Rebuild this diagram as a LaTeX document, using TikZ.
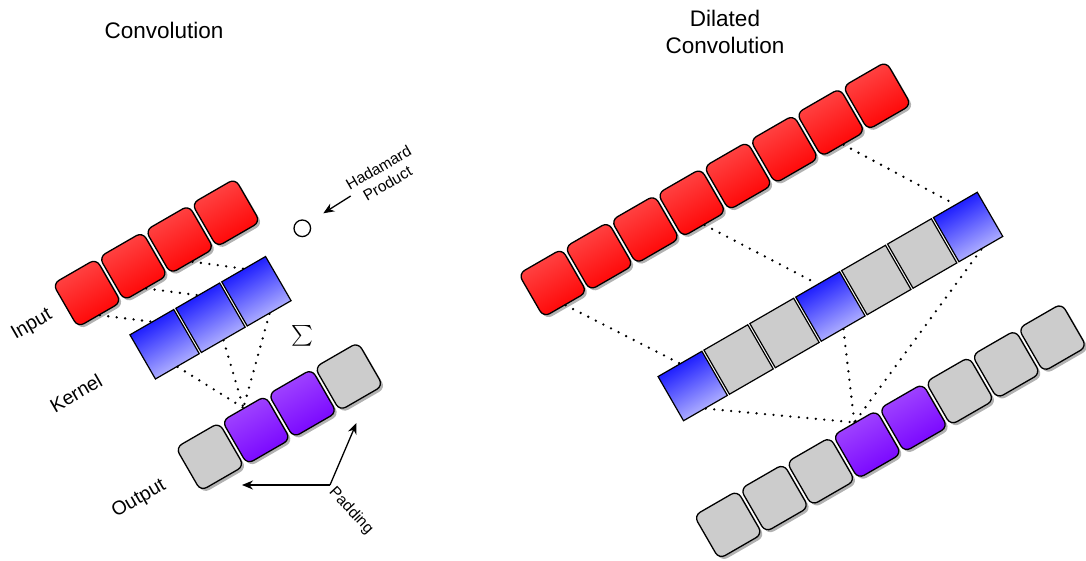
\documentclass[tikz,border=0pt]{standalone}
\usepackage{fontspec}
\setmainfont{Liberation Sans}
\usepackage{amsmath}
\usetikzlibrary{shadows,calc,arrows.meta}
\definecolor{redT}{rgb}{1,0.29,0.29}
\definecolor{redB}{rgb}{1,0,0}
\definecolor{bluT}{rgb}{0.03,0.03,1}
\definecolor{bluB}{rgb}{0.77,0.77,1}
\definecolor{purT}{rgb}{0.64,0.29,1}
\definecolor{purB}{rgb}{0.46,0,1}
\definecolor{boxgray}{HTML}{CCCCCC}
\tikzset{
  rbox/.style={rotate=30, draw=black, line width=1.3pt, rounded corners=7pt,
    minimum size=50pt, inner sep=0pt,
    drop shadow={shadow xshift=2.5pt, shadow yshift=-2.5pt, fill=black, opacity=0.3}},
  redbox/.style={rbox, top color=redT, bottom color=redB, shading angle=30},
  purplebox/.style={rbox, top color=purT, bottom color=purB, shading angle=30},
  graybox/.style={rbox, fill=boxgray},
  kbox/.style={rotate=30, draw=black, line width=1.2pt, minimum width=50.6pt,
    minimum height=51pt, inner sep=0pt},
  bluebox/.style={kbox, top color=bluT, bottom color=bluB, shading angle=30},
  kgray/.style={kbox, fill=boxgray},
  dots/.style={line width=2.6pt, dash pattern=on 0pt off 8.5pt, line cap=round},
  arr/.style={line width=1.3pt, -{Stealth[length=11pt,width=9pt]}},
  title/.style={font=\fontsize{22.5}{26.6}\selectfont, inner sep=0pt},
  lab/.style={font=\fontsize{19.5}{23}\selectfont, inner sep=0pt, rotate=30},
  small/.style={font=\fontsize{15.5}{18}\selectfont, inner sep=0pt}
}
\begin{document}
\begin{tikzpicture}[x=1pt,y=-1pt]
\path[use as bounding box] (0,0) rectangle (1086,561);

% titles
\node[title, anchor=base] (t1) at (164,38.3) {Convolution};
\node[title, anchor=north, align=center] (t2) at (725,10.3) {Dilated\\Convolution};

% ---- Convolution ----
\foreach \i in {0,...,3}
  \node[redbox] (in\i) at ($(87,293)+\i*(46.33,-26.75)$) {};
\foreach \i in {0,...,2}
  \node[bluebox] (k\i) at ($(164.6,344.25)+\i*(45.9,-26.5)$) {};
\foreach \i in {0,3}
  \node[graybox] (o\i) at ($(209.9,456.8)+\i*(46.33,-26.75)$) {};
\foreach \i in {1,2}
  \node[purplebox] (o\i) at ($(209.9,456.8)+\i*(46.33,-26.75)$) {};

\foreach \i in {0,1,2} {
  \draw[dots] (in\i.south) -- (k\i.north);
  \draw[dots] (k\i.south) -- (o1.north);
}

\node[lab] (tin) at (32,325) {Input};
\node[lab] (tker) at (76,393) {Kernel};
\node[lab] (tout) at (139,499) {Output};
\node[font=\fontsize{21}{21}\selectfont, inner sep=0pt] (sig) at (302.5,336) {$\textstyle\sum$};
\node[circle, draw, line width=1.3pt, minimum size=16.6pt, inner sep=0pt] (had) at (302.3,228.3) {};
\node[small, rotate=30, align=center] (thad) at (383,175.5) {Hadamard\\Product};
\coordinate (ha1) at (350.7,196);
\coordinate (ha2) at (323.3,213.3);
\draw[arr] (ha1) -- (ha2);

\node[small, rotate=-47] (tpad) at (351,511) {Padding};
\coordinate (pj) at (330,485);
\coordinate (pl) at (242,485);
\coordinate (pr) at (356.5,423);
\draw[arr] (pj) -- (pl);
\draw[arr] (pj) -- (pr);

% ---- Dilated Convolution ----
\foreach \i in {0,...,7}
  \node[redbox] (din\i) at ($(552.7,283)+\i*(46.33,-26.75)$) {};
\foreach \i in {1,2,4,5}
  \node[kgray] (dk\i) at ($(692.7,386)+\i*(45.9,-26.5)$) {};
\foreach \i in {0,3,6}
  \node[bluebox] (dk\i) at ($(692.7,386)+\i*(45.9,-26.5)$) {};
\foreach \i in {0,1,2,5,6,7}
  \node[graybox] (do\i) at ($(728.2,524.85)+\i*(46.33,-26.75)$) {};
\foreach \i in {3,4}
  \node[purplebox] (do\i) at ($(728.2,524.85)+\i*(46.33,-26.75)$) {};

\foreach \i in {0,3,6} {
  \draw[dots] (din\i.south) -- (dk\i.north);
  \draw[dots] (dk\i.south) -- (do3.north);
}
\end{tikzpicture}
\end{document}
